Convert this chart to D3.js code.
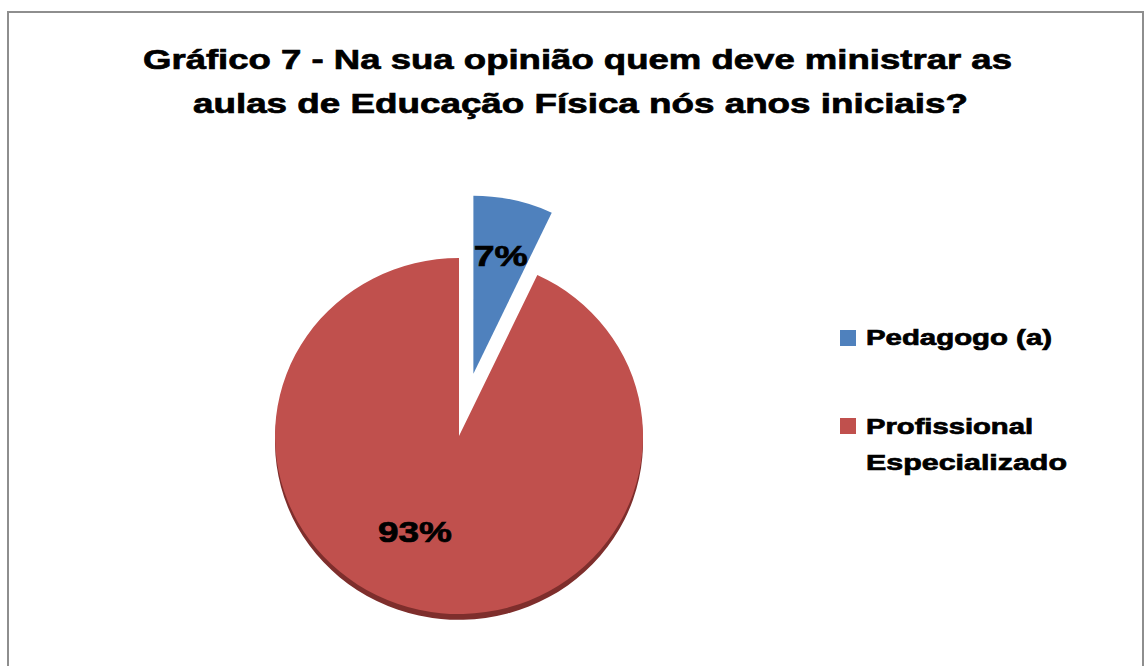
<!DOCTYPE html>
<html>
<head>
<meta charset="utf-8">
<script src="https://cdn.jsdelivr.net/npm/d3@7"></script>
<style>
  html, body { margin: 0; padding: 0; background: #fff; }
  svg { display: block; }
  text { font-family: "Liberation Sans", Arial, sans-serif; font-weight: bold; fill: #000; stroke: #000; stroke-width: 0.7; }
</style>
</head>
<body>
<svg id="chart" width="1145" height="666"></svg>
<script>
const titleLines = ["Gráfico 7 - Na sua opinião quem deve ministrar as",
                    "aulas de Educação Física nós anos iniciais?"];
const categories = ["Pedagogo (a)", "Profissional Especializado"];
const values = [7, 93];
const legendLines = [["Pedagogo (a)"], ["Profissional", "Especializado"]];
const colors = ["#4f81bd", "#c0504d"];
const rimColor = "#7e2e2c";

const svg = d3.select("#chart");

// outer frame
svg.append("rect")
  .attr("x", 8).attr("y", 12).attr("width", 1135).attr("height", 700)
  .attr("fill", "#fff").attr("stroke", "#8e8e8e").attr("stroke-width", 2);

// title
const titleSpec = [{x0: 143, x1: 1012, y: 69}, {x0: 193, x1: 968, y: 113}];
titleLines.forEach((t, i) => {
  svg.append("text")
    .attr("x", titleSpec[i].x0).attr("y", titleSpec[i].y)
    .attr("font-size", 28)
    .attr("textLength", titleSpec[i].x1 - titleSpec[i].x0)
    .attr("lengthAdjust", "spacingAndGlyphs")
    .text(t);
});

// pie
const cx = 459, cy = 436, rx = 184, ry = 178;
const explode = 66;
const pie = d3.pie().sort(null).value(d => d)(values);
const arc = d3.arc().innerRadius(0).outerRadius(rx);

const g = svg.append("g").attr("transform", `translate(${cx},${cy}) scale(1,${ry / rx})`);

pie.forEach((p, i) => {
  const mid = (p.startAngle + p.endAngle) / 2;
  const off = i === 0 ? explode : 0;
  const dx = Math.sin(mid) * off, dy = -Math.cos(mid) * off;
  const sg = g.append("g").attr("transform", `translate(${dx},${dy})`);
  if (i === 1) {
    // 3D rim along the bottom
    sg.append("path").attr("d", arc(p))
      .attr("transform", "translate(0,6)")
      .attr("fill", rimColor);
  }
  sg.append("path").attr("d", arc(p)).attr("fill", colors[i]);
});

// data labels
const labelSpec = [{w: 54, adj: [0, 0]}, {w: 74, adj: [-22, 0]}];
pie.forEach((p, i) => {
  const mid = (p.startAngle + p.endAngle) / 2;
  const off = i === 0 ? explode : 0;
  const r = i === 0 ? rx * 0.68 : rx * 0.55;
  const x = cx + Math.sin(mid) * (r + off) + labelSpec[i].adj[0];
  const y = cy - Math.cos(mid) * (r + off) * (ry / rx) + labelSpec[i].adj[1];
  svg.append("text")
    .attr("x", x).attr("y", y)
    .attr("text-anchor", "middle")
    .attr("dominant-baseline", "central")
    .attr("font-size", 29)
    .attr("textLength", labelSpec[i].w)
    .attr("lengthAdjust", "spacingAndGlyphs")
    .text(values[i] + "%");
});

// legend
const legendSpec = [
  {sy: 330, lines: [{y: 345, w: 186}]},
  {sy: 418, lines: [{y: 434, w: 167}, {y: 470, w: 201}]}
];
legendLines.forEach((lines, i) => {
  svg.append("rect")
    .attr("x", 840).attr("y", legendSpec[i].sy)
    .attr("width", 16).attr("height", 16)
    .attr("fill", colors[i]);
  lines.forEach((t, j) => {
    svg.append("text")
      .attr("x", 866).attr("y", legendSpec[i].lines[j].y)
      .attr("font-size", 22)
      .attr("textLength", legendSpec[i].lines[j].w)
      .attr("lengthAdjust", "spacingAndGlyphs")
      .text(t);
  });
});
</script>
</body>
</html>
